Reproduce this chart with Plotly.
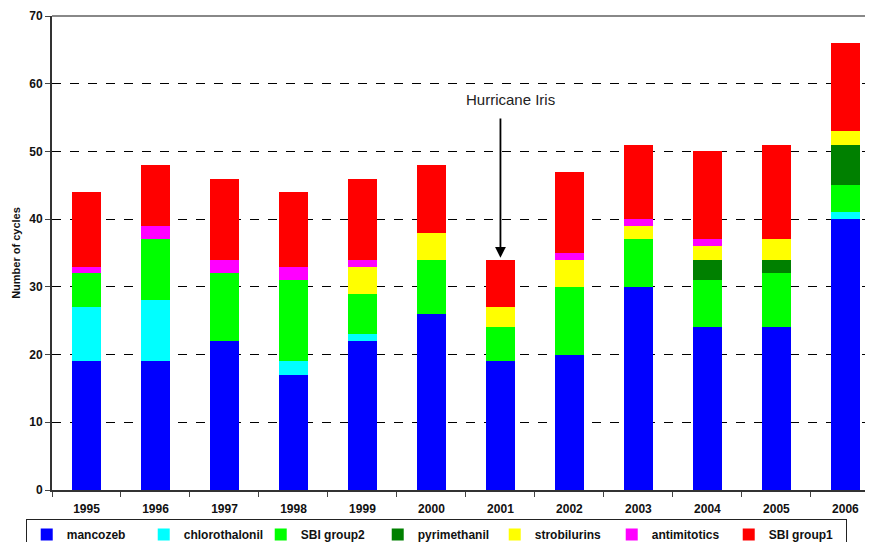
import plotly.graph_objects as go

years = ["1995", "1996", "1997", "1998", "1999", "2000", "2001", "2002", "2003", "2004", "2005", "2006"]
mancozeb       = [19, 19, 22, 17, 22, 26, 19, 20, 30, 24, 24, 40]
chlorothalonil = [8, 9, 0, 2, 1, 0, 0, 0, 0, 0, 0, 1]
sbi_group2     = [5, 9, 10, 12, 6, 8, 5, 10, 7, 7, 8, 4]
pyrimethanil   = [0, 0, 0, 0, 0, 0, 0, 0, 0, 3, 2, 6]
strobilurins   = [0, 0, 0, 0, 4, 4, 3, 4, 2, 2, 3, 2]
antimitotics   = [1, 2, 2, 2, 1, 0, 0, 1, 1, 1, 0, 0]
sbi_group1     = [11, 9, 12, 11, 12, 10, 7, 12, 11, 13, 14, 13]

series = [
    ("mancozeb", mancozeb, "#0000FF"),
    ("chlorothalonil", chlorothalonil, "#00FFFF"),
    ("SBI group2", sbi_group2, "#00FF00"),
    ("pyrimethanil", pyrimethanil, "#008000"),
    ("strobilurins", strobilurins, "#FFFF00"),
    ("antimitotics", antimitotics, "#FF00FF"),
    ("SBI group1", sbi_group1, "#FF0000"),
]

fig = go.Figure()
for name, vals, col in series:
    fig.add_trace(go.Bar(x=years, y=vals, name=name,
                         marker=dict(color=col, line=dict(width=0))))

ff = "Liberation Sans"
bold12 = dict(family=ff, size=12, color="#111111", weight="bold")

# page body has an 8px margin, so the figure is sized/offset to compensate
fig.update_layout(
    barmode="stack",
    bargap=0.58,
    width=865, height=534,
    margin=dict(l=44, r=0, t=8, b=52, autoexpand=False),
    plot_bgcolor="white", paper_bgcolor="white",
    font=dict(family=ff, size=12, color="#111111"),
    showlegend=True,
    legend=dict(orientation="h", x=-0.032, xanchor="left", y=-0.061, yanchor="top",
                bordercolor="#222222", borderwidth=1, bgcolor="white",
                entrywidth=72, entrywidthmode="pixels", traceorder="normal",
                font=bold12),
    xaxis=dict(type="category", range=[-0.5, 11.4], tickson="boundaries",
               ticks="outside", ticklen=5, tickcolor="#444444",
               showline=True, linecolor="#333333", linewidth=2,
               showgrid=False, automargin=False, ticklabelstandoff=7,
               tickfont=bold12),
    yaxis=dict(range=[0, 70], dtick=10, ticks="outside", ticklen=5, tickcolor="#444444",
               showline=True, linecolor="#333333", linewidth=2,
               showgrid=True, gridcolor="#000000", griddash="dash", gridwidth=1,
               zeroline=False, automargin=False,
               tickfont=bold12,
               title=dict(text="Number of cycles", standoff=6, font=dict(family=ff, size=11, color="#111111", weight="bold"))),
)

fig.add_shape(type="line", xref="paper", yref="paper", x0=0, x1=1, y0=1, y1=1,
              line=dict(color="#888888", width=2))

idx = years.index("2001")
fig.add_annotation(x=idx, y=57.6, xref="x", yref="y", text="Hurricane Iris",
                   showarrow=False, xshift=10,
                   font=dict(family=ff, size=15, color="#222222"))
fig.add_annotation(x=idx, y=34.3, xref="x", yref="y", text="",
                   showarrow=True, ax=idx, axref="x", ay=55.1, ayref="y",
                   arrowhead=2, arrowsize=1.2, arrowwidth=1.8, arrowcolor="#000000",
                   standoff=0)

fig.write_html("out.html")
